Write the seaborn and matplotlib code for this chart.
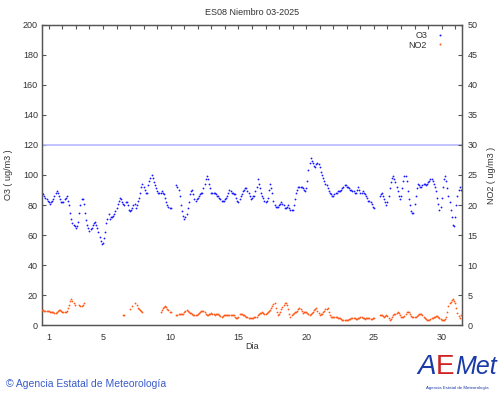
import numpy as np
import pandas as pd
import seaborn as sns
import matplotlib.pyplot as plt
from matplotlib.lines import Line2D

nan = np.nan

# one value every 2 hours, 31 days
days = list(range(1, 32))
hours = list(range(0, 24, 2))

o3_by_day = [
    [88, 87, 86, 85, 84, 83, 82, 81, 82, 83, 84, 86],
    [88, 89, 88, 86, 84, 82, 82, 82, 84, 85, 86, 83],
    [80, 75, 71, 68, 67, 66, 65, 66, 69, 75, 80, 84],
    [84, 81, 75, 70, 67, 65, 63, 64, 65, 67, 68, 69],
    [67, 65, 62, 59, 56, 54, 55, 58, 62, 68, 71, 74],
    [71, 72, 72, 73, 74, 76, 78, 81, 83, 85, 84, 82],
    [81, 80, 82, 82, 80, 77, 76, 77, 78, 80, 81, 78],
    [80, 83, 85, 88, 92, 94, 92, 90, 88, 88, 93, 96],
    [98, 100, 98, 95, 93, 91, 89, 88, 88, 88, 89, 88],
    [87, 85, 82, 80, 79, 78, 78, nan, nan, nan, nan, 93],
    [92, 90, 86, 80, 76, 73, 71, 72, 74, 78, 82, 87],
    [89, 90, 87, 84, 83, 84, 85, 86, 87, 88, 88, 91],
    [94, 97, 99, 97, 94, 91, 88, 88, 88, 88, 87, 86],
    [86, 85, 84, 83, 83, 83, 84, 85, 86, 88, 90, 89],
    [88, 88, 87, 87, 85, 83, 82, 84, 86, 87, 89, 90],
    [91, 91, 89, 88, 86, 84, 85, 86, 86, 89, 92, 97],
    [94, 91, 88, 86, 85, 83, 82, 83, 85, 90, 94, 91],
    [88, 83, 80, 79, 79, 79, 80, 81, 82, 81, 80, 78],
    [78, 79, 80, 78, 77, 77, 77, 80, 84, 88, 90, 92],
    [92, 92, 92, 91, 90, 89, 91, 96, 103, 108, 111, 109],
    [108, 106, 105, 107, 108, 107, 105, 102, 100, 98, 96, 94],
    [93, 91, 89, 88, 87, 86, 86, 87, 88, 88, 89, 89],
    [89, 90, 91, 92, 93, 93, 92, 92, 91, 90, 90, 89],
    [89, 88, 88, 90, 92, 90, 88, 88, 89, 88, 87, 86],
    [85, 83, 83, 82, 81, 79, 78, nan, nan, nan, nan, 86],
    [87, 88, 86, 84, 82, 80, 82, 86, 91, 95, 98, 99],
    [97, 95, 92, 89, 86, 84, 86, 91, 96, 99, 99, 96],
    [89, 84, 80, 76, 75, 75, 81, 86, 91, 94, 93, 92],
    [92, 93, 94, 94, 93, 94, 95, 96, 97, 97, 96, 94],
    [92, 89, 85, 81, 77, 79, 85, 92, 97, 99, 96, 91],
    [86, 82, 77, 72, 67, 66, 72, 80, 86, 90, 92, 90],
]

no2_by_day = [
    [2.5, 2.5, 2.4, 2.4, 2.3, 2.3, 2.3, 2.2, 2.2, 2.1, 2.1, 2.0],
    [2.0, 2.1, 2.3, 2.5, 2.5, 2.4, 2.2, 2.2, 2.1, 2.1, 2.3, 2.8],
    [3.4, 4.0, 4.4, 4.0, 3.6, 3.3, nan, nan, nan, 3.3, 3.2, 3.2],
    [3.4, 3.6, nan, nan, nan, nan, nan, nan, nan, nan, nan, nan],
    [nan] * 12,
    [nan] * 12,
    [1.7, 1.7, nan, nan, nan, nan, 2.7, nan, 3.1, nan, 3.6, nan],
    [3.3, 2.9, 2.7, 2.5, 2.3, 2.1, nan, nan, nan, nan, nan, nan],
    [nan, nan, nan, nan, nan, nan, nan, nan, nan, 2.2, 2.5, 2.8],
    [3.0, 3.2, 3.0, 2.7, 2.5, 2.2, 2.1, nan, nan, nan, nan, 1.7],
    [1.7, 1.8, 1.9, 1.9, 1.8, 1.9, 2.1, 2.3, 2.5, 2.3, 2.1, 2.0],
    [2.0, 1.9, 1.7, 1.7, 1.7, 1.7, 1.8, 2.0, 2.2, 2.3, 2.4, 2.3],
    [2.1, 1.9, 1.7, 1.7, 1.8, 1.9, 2.0, 1.9, 1.8, 1.7, 1.8, 1.8],
    [1.8, 1.7, 1.5, 1.4, 1.5, 1.6, 1.7, 1.7, 1.7, 1.7, 1.7, 1.7],
    [1.7, 1.7, 1.6, 1.4, 1.2, 1.1, 1.4, 1.8, 1.9, 1.8, 1.7, 1.6],
    [1.5, 1.4, 1.3, 1.2, 1.1, 1.1, 1.2, 1.2, 1.3, 1.3, 1.4, 1.6],
    [1.8, 2.0, 2.0, 2.1, 2.0, 1.9, 1.9, 2.0, 2.1, 2.3, 2.5, 2.9],
    [3.2, 3.5, 3.6, 2.8, 2.2, 1.7, 1.8, 2.2, 2.6, 3.0, 3.3, 3.6],
    [3.6, 3.4, 2.6, 1.8, 1.4, 1.6, 1.9, 2.0, 2.1, 2.2, 2.4, 2.6],
    [2.8, 2.6, 2.3, 2.0, 2.1, 2.2, 2.2, 2.0, 1.8, 1.7, 1.8, 2.0],
    [2.2, 2.5, 2.7, 2.8, 2.4, 2.0, 1.7, 1.8, 1.9, 2.1, 2.4, 2.6],
    [2.7, 2.8, 2.2, 1.6, 1.4, 1.4, 1.4, 1.3, 1.3, 1.3, 1.2, 1.2],
    [1.1, 1.0, 0.9, 0.8, 0.8, 0.8, 0.9, 0.9, 1.0, 1.0, 1.1, 1.1],
    [1.1, 1.1, 1.0, 1.0, 1.1, 1.2, 1.3, 1.3, 1.2, 1.1, 1.0, 1.1],
    [1.1, 1.2, 1.1, 1.0, 1.0, 1.1, 1.1, nan, nan, nan, nan, 1.7],
    [1.7, 1.6, 1.5, 1.4, 1.5, 1.6, 1.5, 1.2, 0.9, 1.0, 1.3, 1.6],
    [1.8, 1.9, 2.0, 2.1, 2.0, 1.7, 1.4, 1.3, 1.3, 1.5, 1.9, 2.1],
    [2.2, 2.1, 1.9, 1.5, 1.3, 1.3, 1.3, 1.4, 1.5, 1.7, 1.8, 1.9],
    [1.9, 1.7, 1.4, 1.1, 1.0, 0.9, 0.8, 0.9, 1.0, 1.1, 1.2, 1.3],
    [1.4, 1.5, 1.5, 1.4, 1.1, 1.0, 0.9, 0.8, 0.8, 1.0, 1.4, 2.2],
    [3.1, 3.6, 3.9, 4.2, 4.3, 4.0, 3.6, 2.8, 2.0, 1.5, 1.2, 1.6],
]

day_labels = [1, 5, 10, 15, 20, 25, 30]
limit_o3 = 120

# long table: one row per reading
rows = []
for d, o_day, n_day in zip(days, o3_by_day, no2_by_day):
    for h, o, n in zip(hours, o_day, n_day):
        rows.append({'t': d - 0.5 + h / 24, 'O3': o, 'NO2': n})
df = pd.DataFrame(rows)

sns.set_style('white')
plt.rcParams['font.family'] = ['Liberation Sans', 'DejaVu Sans']
txt = '#333333'

fig = plt.figure(figsize=(5, 3.95), dpi=100)
ax = fig.add_axes([0.084, 0.177, 0.84, 0.76])
ax2 = ax.twinx()

ax.axhline(limit_o3, color='#b8b8ff', lw=1.2, zorder=1)
sns.scatterplot(data=df, x='t', y='O3', ax=ax, s=1.7, color='#1a1aff',
                linewidth=0, legend=False, zorder=3)
sns.scatterplot(data=df, x='t', y='NO2', ax=ax2, s=1.7, color='#ff5a1a',
                linewidth=0, legend=False, zorder=3)

ax.set_xlim(0.5, 31.5)
ax.set_ylim(0, 200)
ax2.set_ylim(0, 50)
ax.set_xticks(days)
ax.set_xticklabels([str(d) if d in day_labels else '' for d in days])
ax.set_yticks(range(0, 201, 20))
ax2.set_yticks(range(0, 51, 5))

for a in (ax, ax2):
    for s in a.spines.values():
        s.set_color('#555555')
        s.set_linewidth(0.9)
ax.tick_params(axis='both', direction='in', length=3, width=0.8, color='#555555',
               labelsize=6.5, labelcolor=txt, top=True, pad=3)
ax.tick_params(axis='x', pad=6)
ax2.tick_params(axis='y', direction='in', length=3, width=0.8, color='#555555',
                labelsize=6.5, labelcolor=txt, pad=4)

ax.set_xlabel('')
ax.set_ylabel('')
ax2.set_ylabel('')

fig.text(0.504, 0.968, 'ES08 Niembro 03-2025', ha='center', va='center', fontsize=6.5, color=txt)
fig.text(0.504, 0.124, 'Dia', ha='center', va='center', fontsize=6.5, color=txt)
fig.text(0.018, 0.557, 'O3 ( ug/m3 )', rotation=90, ha='center', va='center', fontsize=6.5, color=txt)
fig.text(0.984, 0.557, 'NO2 ( ug/m3 )', rotation=90, ha='center', va='center', fontsize=6.5, color=txt)

handles = [Line2D([], [], ls='none', marker='o', ms=1.4, color='#1a1aff', mec='none'),
           Line2D([], [], ls='none', marker='o', ms=1.4, color='#ff5a1a', mec='none')]
leg = ax.legend(handles, ['O3', 'NO2'], loc='upper right', frameon=False, markerfirst=False,
                fontsize=6.5, handlelength=1.2, handletextpad=0.8, labelspacing=0.05,
                borderaxespad=0.3, bbox_to_anchor=(0.975, 1.0))
for t in leg.get_texts():
    t.set_color(txt)

# footer
fig.text(0.012, 0.028, '\u00a9 Agencia Estatal de Meteorolog\u00eda', fontsize=7.5,
         color='#3a5ccc', va='center')
fig.text(0.835, 0.07, 'A', fontsize=20, color='#1a3aa8', style='italic', va='center')
fig.text(0.872, 0.07, 'E', fontsize=20, color='#d02020', va='center')
fig.text(0.91, 0.07, 'Met', fontsize=18, color='#1a3aa8', style='italic', va='center')
fig.text(0.915, 0.018, 'Agencia Estatal de Meteorolog\u00eda', fontsize=3.2,
         color='#1a3aa8', ha='center', va='center')

fig.savefig('out.png', dpi=100)
